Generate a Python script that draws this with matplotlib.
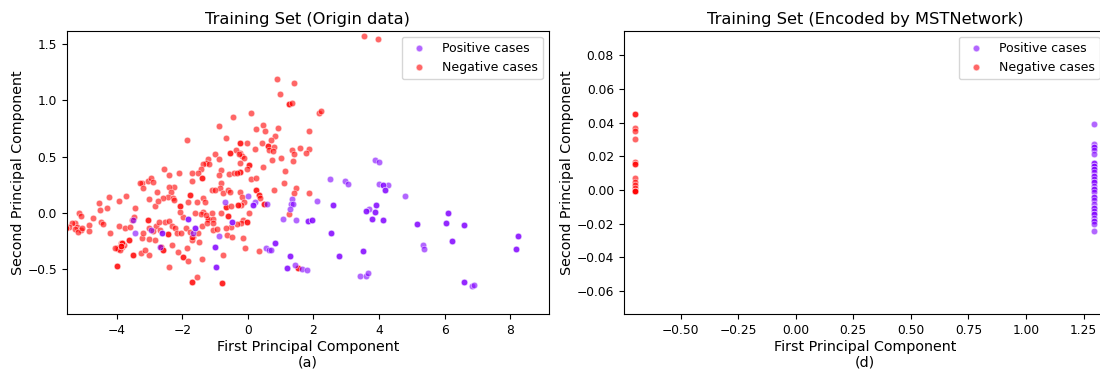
import numpy as np
import matplotlib
matplotlib.use("Agg")
import matplotlib.pyplot as plt
from matplotlib.lines import Line2D

# ---- panel (a): PCA of the original training data -------------------------
# n = how many cases sit on (almost) the same spot; stacked dots look darker
neg_pts = [
    (3.55, 1.571, 1), (3.96, 1.545, 1),
    (0.90, 1.194, 1), (1.40, 1.155, 1), (0.97, 1.054, 1), (1.26, 0.971, 2), (1.34, 0.974, 1),
    (0.09, 0.890, 1), (2.16, 0.885, 1), (2.24, 0.908, 1), (0.24, 0.742, 1), (0.45, 0.778, 1),
    (0.53, 0.730, 1), (0.91, 0.757, 1), (1.86, 0.724, 1), (0.84, 0.683, 1), (0.71, 0.647, 1),
    (0.44, 0.623, 1), (-0.04, 0.623, 1), (-0.24, 0.617, 2), (0.60, 0.596, 2), (0.79, 0.582, 1),
    (0.64, 0.558, 1), (0.75, 0.552, 1), (0.22, 0.564, 1), (1.34, 0.555, 1), (1.41, 0.519, 1),
    (1.60, 0.579, 1), (1.86, 0.570, 1), (1.78, 0.528, 1), (1.38, 0.462, 1), (1.01, 0.489, 1),
    (0.74, 0.469, 1), (-0.24, 0.528, 1), (-0.19, 0.504, 1), (-0.12, 0.489, 1), (-0.24, 0.439, 1),
    (0.03, 0.427, 2), (-0.04, 0.386, 1), (-0.24, 0.359, 2), (0.45, 0.403, 1), (1.13, 0.374, 1),
    (0.09, 0.300, 1), (0.25, 0.311, 1), (1.11, 0.261, 1), (1.47, 0.216, 1), (0.79, 0.198, 1),
    (0.24, 0.201, 2), (1.42, 0.172, 1), (1.87, 0.174, 1), (0.34, 0.157, 2), (0.37, 0.127, 1),
    (-0.24, 0.181, 1), (-0.19, 0.142, 1), (-0.12, 0.097, 1), (-0.21, 0.068, 1), (0.50, 0.079, 2),
    (1.25, -0.010, 1), (0.03, -0.007, 1), (-0.14, -0.066, 1), (-0.21, -0.090, 1),
    (-0.14, -0.230, 1), (-0.08, -0.319, 1), (0.33, -0.343, 1), (1.54, -0.497, 2), (-0.02, -0.081, 2),
    (-0.89, 0.769, 1), (-0.67, 0.665, 1), (-1.85, 0.650, 1), (-0.56, 0.528, 2), (-0.37, 0.555, 1),
    (-0.28, 0.519, 1), (-1.00, 0.519, 1), (-0.87, 0.475, 1), (-1.21, 0.475, 1), (-1.28, 0.445, 1),
    (-1.18, 0.436, 1), (-1.38, 0.436, 1), (-1.44, 0.386, 1), (-1.53, 0.356, 1), (-1.71, 0.350, 1),
    (-2.09, 0.350, 1), (-2.56, 0.389, 1), (-2.42, 0.335, 1), (-0.82, 0.380, 1), (-0.87, 0.335, 1),
    (-0.57, 0.341, 1), (-0.44, 0.350, 1), (-0.32, 0.356, 1), (-1.41, 0.305, 2), (-1.71, 0.282, 1),
    (-0.82, 0.264, 1), (-0.84, 0.222, 1), (-2.25, 0.231, 1), (-2.40, 0.231, 1), (-2.35, 0.186, 1),
    (-2.45, 0.142, 1), (-2.58, 0.133, 1), (-2.29, 0.133, 1), (-2.25, 0.112, 1), (-1.77, 0.157, 2),
    (-1.10, 0.201, 1), (-1.02, 0.201, 1), (-0.77, 0.172, 1), (-0.62, 0.201, 1), (-0.54, 0.186, 1),
    (-1.84, 0.097, 1), (-1.56, 0.097, 1), (-1.36, 0.127, 1), (-1.31, 0.097, 1), (-2.07, 0.059, 2),
    (-0.67, 0.047, 2), (-0.51, 0.062, 1), (-0.29, 0.068, 2), (-0.82, 0.000, 1), (-0.62, -0.031, 2),
    (-1.10, -0.007, 1), (-1.21, -0.057, 2), (-1.06, -0.057, 1), (-1.36, 0.008, 1), (-1.44, -0.013, 1),
    (-1.28, -0.022, 1), (-1.63, -0.007, 1), (-1.97, -0.042, 1), (-2.07, 0.008, 1),
    (-2.53, -0.081, 1), (-2.41, -0.075, 1), (-2.31, -0.117, 1), (-2.22, -0.140, 1), (-2.17, -0.185, 1),
    (-2.04, -0.185, 1), (-2.45, -0.191, 2), (-2.81, -0.120, 1), (-1.89, -0.140, 1), (-1.77, -0.176, 1),
    (-1.67, -0.215, 1), (-1.72, -0.245, 1), (-1.41, -0.120, 1), (-1.51, -0.185, 1), (-1.24, -0.090, 1),
    (-1.07, -0.096, 1), (-1.06, -0.155, 1), (-0.95, -0.149, 1), (-0.52, -0.126, 1), (-0.67, -0.135, 1),
    (-0.65, -0.200, 1), (-0.48, -0.215, 1), (-0.32, -0.102, 1), (-0.77, -0.378, 1), (-2.65, -0.304, 2),
    (-2.58, -0.334, 2), (-2.31, -0.289, 1), (-2.14, -0.354, 1), (-1.87, -0.319, 1), (-1.97, -0.393, 2),
    (-1.82, -0.432, 1), (-1.39, -0.414, 1), (-2.40, -0.485, 1), (-1.56, -0.571, 1), (-1.70, -0.622, 2),
    (-0.80, -0.631, 2), (-1.71, -0.215, 1), (-1.50, -0.265, 1), (-0.46, 0.855, 1),
    (-3.23, 0.267, 1), (-3.30, 0.261, 1), (-3.05, 0.284, 1), (-2.95, 0.305, 1), (-2.89, 0.270, 1),
    (-3.19, 0.216, 1), (-2.78, 0.186, 1), (-3.01, 0.121, 1), (-2.84, 0.059, 1), (-2.75, 0.106, 1),
    (-3.72, 0.148, 1), (-3.94, 0.103, 1), (-4.25, 0.136, 1), (-4.55, 0.088, 1), (-4.53, 0.023, 1),
    (-4.31, 0.038, 1), (-4.74, -0.051, 1), (-4.86, -0.108, 1), (-4.86, -0.164, 1), (-5.16, -0.001, 1),
    (-5.09, -0.030, 1), (-5.27, -0.096, 1), (-5.22, -0.131, 1), (-5.37, -0.090, 1), (-5.45, -0.126, 1),
    (-5.28, -0.150, 1), (-5.11, -0.155, 1), (-5.18, -0.170, 1), (-5.06, -0.141, 1), (-5.55, -0.141, 2),
    (-4.50, -0.081, 1), (-4.43, -0.101, 1), (-4.20, -0.185, 1), (-3.94, -0.120, 1), (-3.74, -0.141, 1),
    (-3.59, -0.132, 1), (-3.54, -0.066, 1), (-3.48, -0.037, 1), (-3.44, 0.038, 1), (-3.05, -0.066, 2),
    (-3.01, -0.141, 1), (-2.90, -0.162, 1), (-2.72, -0.081, 1), (-2.68, -0.155, 1), (-3.22, -0.224, 1),
    (-3.01, -0.239, 1), (-2.84, -0.245, 1), (-3.01, -0.378, 1), (-3.28, -0.357, 1), (-3.15, -0.334, 1),
    (-3.89, -0.268, 1), (-3.84, -0.304, 1), (-3.78, -0.289, 1), (-3.99, -0.313, 1), (-3.96, -0.328, 1),
    (-3.92, -0.334, 1), (-4.05, -0.319, 1), (-3.86, -0.274, 2), (-3.88, -0.301, 2), (-3.64, -0.245, 2),
    (-3.51, -0.381, 2), (-3.99, -0.476, 2), (-3.21, -0.185, 1),
]
pos_pts = [
    (3.87, 0.471, 1), (3.99, 0.451, 1), (2.51, 0.297, 1), (2.96, 0.279, 1), (3.06, 0.258, 1),
    (4.01, 0.252, 1), (4.28, 0.249, 1), (4.78, 0.148, 1), (3.70, 0.035, 1), (5.35, -0.292, 1),
    (5.38, -0.322, 1), (3.41, -0.563, 1), (3.60, -0.568, 1), (3.66, -0.542, 1), (6.85, -0.654, 1),
    (6.90, -0.643, 1),
    (4.13, 0.249, 2), (4.19, 0.199, 2), (2.61, 0.068, 2), (3.60, 0.014, 2), (3.92, 0.068, 2),
    (3.87, 0.005, 2), (3.78, -0.055, 2), (4.11, -0.066, 2), (5.17, -0.099, 2), (6.06, -0.093, 2),
    (6.12, -0.007, 2), (6.58, -0.114, 2), (8.24, -0.206, 2), (8.18, -0.325, 2), (2.53, -0.185, 2),
    (2.79, -0.384, 2), (3.50, -0.346, 2), (6.22, -0.250, 2), (6.60, -0.622, 2),
    (0.01, 0.151, 1), (0.22, 0.091, 1), (0.57, 0.076, 1), (1.34, 0.118, 1), (1.30, 0.076, 1),
    (1.39, 0.074, 1), (1.29, 0.032, 1), (1.08, -0.054, 1), (1.47, -0.069, 1), (2.11, 0.106, 1),
    (0.54, -0.316, 1), (0.65, -0.331, 1), (0.70, -0.334, 1), (1.45, -0.467, 1), (1.65, -0.503, 1),
    (1.80, -0.515, 1),
    (0.14, 0.068, 2), (1.83, -0.072, 2), (1.97, -0.066, 2), (0.82, -0.271, 2), (1.29, -0.390, 2),
    (1.18, -0.497, 2),
    (-0.70, 0.097, 1), (-1.67, -0.178, 1), (-0.87, -0.209, 1), (-2.70, -0.305, 1),
    (-1.84, -0.057, 2), (-1.63, -0.140, 2), (-0.48, -0.084, 2), (-1.02, -0.304, 2), (-0.97, -0.482, 2),
    (-2.61, -0.185, 2),
    (-3.50, -0.070, 1), (-3.44, -0.179, 1), (-2.95, -0.155, 1),
]

# ---- panel (d): PCA of the MSTNetwork encoding -----------------------------
enc_neg_pts = [
    (-0.697, 0.0450, 2), (-0.697, 0.0368, 1), (-0.697, 0.0348, 1), (-0.697, 0.0306, 1),
    (-0.697, 0.0164, 1), (-0.697, 0.0152, 2), (-0.697, 0.0070, 1), (-0.697, 0.0046, 1),
    (-0.697, 0.0032, 1), (-0.697, 0.0012, 1), (-0.697, -0.0004, 2), (-0.697, -0.0008, 2),
]
enc_pos_pts = [
    (1.297, 0.0390, 1), (1.297, 0.0276, 1), (1.297, 0.0256, 2), (1.297, 0.0236, 1),
    (1.297, 0.0212, 1), (1.297, 0.0160, 2), (1.297, 0.0140, 2), (1.297, 0.0122, 2),
    (1.297, 0.0106, 1), (1.297, 0.0086, 2), (1.297, 0.0066, 1), (1.297, 0.0046, 2),
    (1.297, 0.0026, 1), (1.297, 0.0006, 2), (1.297, -0.0014, 1), (1.297, -0.0040, 2),
    (1.297, -0.0058, 1), (1.297, -0.0084, 1), (1.297, -0.0104, 2), (1.297, -0.0124, 1),
    (1.297, -0.0144, 2), (1.297, -0.0164, 1), (1.297, -0.0184, 2), (1.297, -0.0204, 1),
    (1.297, -0.0244, 1),
]

POS_COLOR = (0.5, 0.0, 1.0)   # rainbow(0)
NEG_COLOR = (1.0, 0.0, 0.0)   # rainbow(1)
LABELS = ["Positive cases", "Negative cases"]


def expand(points):
    arr = np.array(points, dtype=float)
    counts = arr[:, 2].astype(int)
    return np.repeat(arr[:, 0], counts), np.repeat(arr[:, 1], counts)


def draw_panel(ax, neg, pos, title, xlabel):
    for pts, color in ((neg, NEG_COLOR), (pos, POS_COLOR)):
        x, y = expand(pts)
        ax.scatter(x, y, s=22, color=color, alpha=0.6, edgecolors="white", linewidths=0.5)
    ax.set_title(title, fontsize=11.7, pad=5)
    ax.set_xlabel(xlabel, fontsize=10.3, labelpad=2)
    ax.set_ylabel("Second Principal Component", fontsize=10.3, labelpad=2)
    ax.tick_params(labelsize=8.8)
    handles = [
        Line2D([], [], marker="o", linestyle="", color=POS_COLOR, alpha=0.6,
               markeredgecolor="white", markersize=5),
        Line2D([], [], marker="o", linestyle="", color=NEG_COLOR, alpha=0.6,
               markeredgecolor="white", markersize=5),
    ]
    ax.legend(handles, LABELS, loc="upper right", fontsize=9)


fig = plt.figure(figsize=(11, 3.72), dpi=100)
ax_a = fig.add_axes([66.8 / 1100, 58 / 372, 482.2 / 1100, 283.3 / 372])
ax_d = fig.add_axes([623.7 / 1100, 58 / 372, 482.2 / 1100, 283.3 / 372])

draw_panel(ax_a, neg_pts, pos_pts, "Training Set (Origin data)",
           "First Principal Component\n(a)")
ax_a.set_xlim(-5.53, 9.19)
ax_a.set_ylim(-0.904, 1.622)

draw_panel(ax_d, enc_neg_pts, enc_pos_pts, "Training Set (Encoded by MSTNetwork)",
           "First Principal Component\n(d)")
ax_d.set_xlim(-0.747, 1.347)
ax_d.set_ylim(-0.0737, 0.0947)
ax_d.set_xticks([-0.5, -0.25, 0.0, 0.25, 0.5, 0.75, 1.0, 1.25])
ax_d.set_yticks([-0.06, -0.04, -0.02, 0.0, 0.02, 0.04, 0.06, 0.08])

fig.savefig("out.png", dpi=100)
